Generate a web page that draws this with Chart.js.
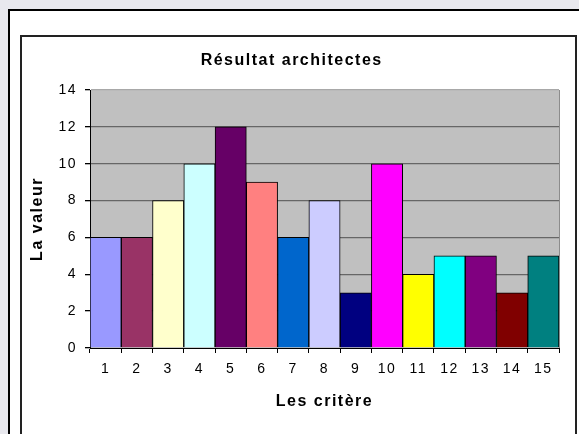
<!DOCTYPE html>
<html>
<head>
<meta charset="utf-8">
<script src="https://cdn.jsdelivr.net/npm/chart.js@4"></script>
<style>
  html, body { margin: 0; padding: 0; width: 579px; height: 434px; overflow: hidden; background: #e8e8ee; }
  .outer { position: absolute; left: 8px; top: 9px; width: 600px; height: 460px; border: 2px solid #000; background: #fff; }
  .inner { position: absolute; left: 20px; top: 35px; width: 553px; height: 420px; border: 2px solid #222; background: #fff; }
  #myChart { position: absolute; left: 21px; top: 36px; }
</style>
</head>
<body>
<div class="outer"></div>
<div class="inner"></div>
<canvas id="myChart" width="554" height="398"></canvas>
<script>
const criteres = ['1', '2', '3', '4', '5', '6', '7', '8', '9', '10', '11', '12', '13', '14', '15'];
const valeurs = [6, 6, 8, 10, 12, 9, 6, 8, 3, 10, 4, 5, 5, 3, 5];
const couleurs = ['#9999ff', '#993366', '#ffffcc', '#ccffff', '#660066', '#ff8080', '#0066cc', '#ccccff',
  '#000080', '#ff00ff', '#ffff00', '#00ffff', '#800080', '#800000', '#008080'];
const yMin = 0, yMax = 14, yStep = 2;

const police = 'Liberation Sans, Arial, sans-serif';

// gray plot background + right edge, and the wide letter spacing of the old Excel output
const fondGris = {
  id: 'fondGris',
  beforeDraw(chart) {
    const {ctx, chartArea: a} = chart;
    ctx.letterSpacing = '1.5px';
    ctx.save();
    ctx.fillStyle = '#c0c0c0';
    ctx.fillRect(a.left, a.top, a.right - a.left, a.bottom - a.top);
    ctx.strokeStyle = '#8c8c8c';
    ctx.lineWidth = 1;
    ctx.beginPath();
    ctx.moveTo(a.right + 0.5, a.top);
    ctx.lineTo(a.right + 0.5, a.bottom);
    ctx.stroke();
    ctx.restore();
  }
};

const ctx = document.getElementById('myChart');

new Chart(ctx, {
  type: 'bar',
  data: {
    labels: criteres,
    datasets: [{
      data: valeurs,
      backgroundColor: couleurs,
      borderColor: '#000',
      borderWidth: 1,
      barPercentage: 1,
      categoryPercentage: 1
    }]
  },
  options: {
    responsive: false,
    animation: false,
    layout: { padding: { left: 3.4, right: 16, top: 0, bottom: 18.4 } },
    plugins: {
      legend: { display: false },
      tooltip: { enabled: false },
      title: {
        display: true,
        text: 'Résultat architectes',
        color: '#000',
        font: { family: police, size: 16, weight: 'bold' },
        padding: { top: 15.2, bottom: 19.6 }
      }
    },
    scales: {
      x: {
        grid: { drawOnChartArea: false, drawTicks: true, tickLength: 5, tickColor: '#000', offset: true },
        border: { color: '#000', width: 1 },
        ticks: { color: '#000', font: { family: police, size: 14 }, padding: 7.6, maxRotation: 0 },
        title: { display: true, text: 'Les critère', color: '#000', font: { family: police, size: 16, weight: 'bold' } },
        afterFit(scale) { scale.height = 67.6; }
      },
      y: {
        min: yMin,
        max: yMax,
        ticks: { stepSize: yStep, color: '#000', font: { family: police, size: 14 }, padding: 8 },
        grid: {
          tickLength: 5,
          tickColor: '#000',
          lineWidth: 1.3,
          color: c => c.tick.value === yMax ? '#a8a8a8' : (c.tick.value === yMin ? 'rgba(0,0,0,0)' : '#666')
        },
        border: { color: '#000', width: 1 },
        title: { display: true, text: 'La valeur', color: '#000', font: { family: police, size: 16, weight: 'bold' } },
        afterFit(scale) { scale.width = 65.6; }
      }
    }
  },
  plugins: [fondGris]
});
</script>
</body>
</html>
